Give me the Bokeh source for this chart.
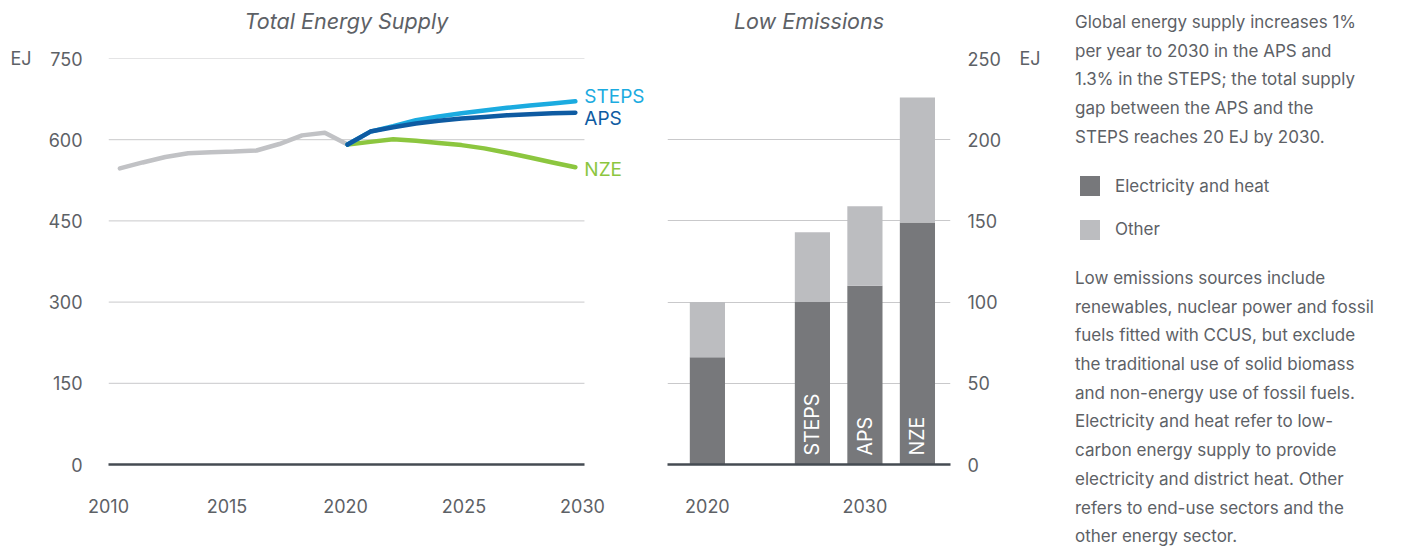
from math import pi
from bokeh.plotting import figure
from bokeh.models import Label, Range1d, FixedTicker, Div, LinearAxis
from bokeh.layouts import row
from bokeh.embed import file_html
from bokeh.resources import INLINE
from bokeh.core.properties import value

# ---------------- data ----------------
hist_years = list(range(2010, 2021))
hist_values = [547, 558, 568, 575, 577, 578, 580, 592, 608, 613, 591]
proj_years = list(range(2020, 2031))
steps_values = [591, 615, 625, 636, 643, 649, 654, 659, 663, 667, 671]
aps_values = [591, 615, 623, 630, 635, 639, 642, 645, 647, 649, 650]
nze_values = [591, 596, 601, 598, 594, 590, 584, 576, 567, 558, 549]
line_ticks = [0, 150, 300, 450, 600, 750]
year_ticks = [2010, 2015, 2020, 2025, 2030]

bar_groups = ["2020", "2030", "2030", "2030"]
bar_scenarios = ["", "STEPS", "APS", "NZE"]
elec_heat = [66, 100, 110, 149]
other = [34, 43, 49, 77]
bar_ticks = [0, 50, 100, 150, 200, 250]
unit = "EJ"
title_left = "Total Energy Supply"
title_mid = "Low Emissions"

# ---------------- styles ----------------
FONT = "Inter"
TXT = "#5d6166"
GRID = "#c9c9cb"
ZERO = "#454b52"
C_HIST = "#c1c2c5"
C_STEPS = "#1babe0"
C_APS = "#0e5ba2"
C_NZE = "#8cc63f"
C_ELEC = "#77787b"
C_OTHER = "#bcbdc0"
H = 538
X_START, X_GRID_END, X_END = 2009.5, 2030.4, 2033.3   # data range of the line panel
LAB_START, LAB_END = 2010.0, 2032.87                  # range used to place the year labels


def style_axis(ax, standoff, size="18px"):
    ax.major_tick_line_color = None
    ax.minor_tick_line_color = None
    ax.major_tick_out = 0
    ax.minor_tick_out = 0
    ax.major_tick_in = 0
    ax.minor_tick_in = 0
    ax.axis_line_color = None
    ax.major_label_text_font = FONT
    ax.major_label_text_font_size = size
    ax.major_label_text_color = TXT
    ax.major_label_standoff = standoff


def style(p):
    p.outline_line_color = None
    p.xgrid.visible = False
    for ax in p.axis:
        style_axis(ax, 20)


def label_axis(tick, text, **kw):
    return LinearAxis(ticker=FixedTicker(ticks=[tick]), major_label_overrides={tick: text}, **kw)


def add_title(p, rng, text):
    mid = (rng.start + rng.end) / 2
    ax = label_axis(mid, text)
    style_axis(ax, 25, "21.5px")
    ax.major_label_text_font_style = "italic"
    p.add_layout(ax, "above")


# ---------------- left: total energy supply ----------------
p1 = figure(width=650, height=H, x_range=Range1d(X_START, X_END), y_range=Range1d(0, 750),
            output_backend="svg", toolbar_location=None,
            min_border_left=108, min_border_right=0, min_border_top=58, min_border_bottom=74)
p1.extra_x_ranges = {"labels": Range1d(LAB_START, LAB_END)}
p1.xaxis.visible = False
year_axis = LinearAxis(x_range_name="labels", ticker=FixedTicker(ticks=year_ticks))
p1.add_layout(year_axis, "below")
style(p1)
p1.ygrid.visible = False
p1.yaxis.ticker = FixedTicker(ticks=line_ticks)
p1.yaxis.major_label_standoff = 26
year_axis.major_label_standoff = 34
frac = (X_GRID_END - X_START) / (X_END - X_START)
year_axis.bounds = (LAB_START, LAB_START + frac * (LAB_END - LAB_START))
year_axis.axis_line_color = ZERO
year_axis.axis_line_width = 2.5
ej1 = label_axis(line_ticks[-1], unit)
style_axis(ej1, 14)
p1.add_layout(ej1, "left")
add_title(p1, Range1d(X_START, X_GRID_END), title_left)

# grid lines limited to the data area
grid_ticks = line_ticks[1:]
p1.segment(x0=[X_START] * len(grid_ticks), x1=[X_GRID_END] * len(grid_ticks),
           y0=grid_ticks, y1=grid_ticks, line_color=GRID, line_width=1)

kw = dict(line_width=4.5, line_cap="round", line_join="round")
p1.line(hist_years, hist_values, color=C_HIST, **kw)
p1.line(proj_years, nze_values, color=C_NZE, **kw)
p1.line(proj_years, steps_values, color=C_STEPS, **kw)
p1.line(proj_years, aps_values, color=C_APS, **kw)

for name, vals, col, dy in [("STEPS", steps_values, C_STEPS, 5), ("APS", aps_values, C_APS, -6),
                            ("NZE", nze_values, C_NZE, -2)]:
    p1.add_layout(Label(x=proj_years[-1], y=vals[-1], x_offset=9, y_offset=dy, text=name,
                        text_font=FONT, text_font_size="19px", text_color=col,
                        text_baseline="middle", text_align="left"))

# ---------------- middle: low emissions ----------------
pos = []
idx = 0
prev = None
for g in bar_groups:
    if prev is not None and g != prev:
        idx += 1
    pos.append(idx)
    idx += 1
    prev = g
totals = [e + o for e, o in zip(elec_heat, other)]
group_centers = {}
for g, x in zip(bar_groups, pos):
    group_centers.setdefault(g, []).append(x)
group_ticks = {sum(v) / len(v): g for g, v in group_centers.items()}

p2 = figure(width=410, height=H, x_range=Range1d(-0.76, 4.63), y_range=Range1d(0, 250),
            output_backend="svg", toolbar_location=None, y_axis_location="right",
            min_border_left=17, min_border_right=110, min_border_top=58, min_border_bottom=74)
style(p2)
p2.ygrid.grid_line_color = GRID
p2.ygrid.grid_line_width = 1
p2.yaxis.ticker = FixedTicker(ticks=bar_ticks)
p2.yaxis.major_label_standoff = 17
p2.xaxis.ticker = FixedTicker(ticks=list(group_ticks.keys()))
p2.xaxis.major_label_overrides = {k: v for k, v in group_ticks.items()}
p2.xaxis.major_label_standoff = 34
p2.xaxis.axis_line_color = ZERO
p2.xaxis.axis_line_width = 2.5
ej2 = label_axis(bar_ticks[-1], unit)
style_axis(ej2, 15)
p2.add_layout(ej2, "right")
add_title(p2, p2.x_range, title_mid)

p2.vbar(x=pos, bottom=0, top=elec_heat, width=0.67, color=C_ELEC, line_color=None)
p2.vbar(x=pos, bottom=elec_heat, top=totals, width=0.67, color=C_OTHER, line_color=None)

lab_x = [x for x, s in zip(pos, bar_scenarios) if s]
lab_t = [s for s in bar_scenarios if s]
p2.text(x=lab_x, y=[0] * len(lab_x), text=lab_t, angle=pi / 2, y_offset=-9,
        text_align="left", text_baseline="middle", text_color="white",
        text_font=value(FONT), text_font_size="19.5px")

# ---------------- right: notes ----------------
para1 = ["Global energy supply increases 1%", "per year to 2030 in the APS and",
         "1.3% in the STEPS; the total supply", "gap between the APS and the",
         "STEPS reaches 20 EJ by 2030."]
para2 = ["Low emissions sources include", "renewables, nuclear power and fossil",
         "fuels fitted with CCUS, but exclude", "the traditional use of solid biomass",
         "and non-energy use of fossil fuels.", "Electricity and heat refer to low-",
         "carbon energy supply to provide", "electricity and district heat. Other",
         "refers to end-use sectors and the", "other energy sector."]
legend_items = [("Electricity and heat", C_ELEC), ("Other", C_OTHER)]


def legend_row(label, col, mt):
    return (f'<div style="display:flex;align-items:center;margin-top:{mt}px;height:28.7px;">'
            f'<span style="display:inline-block;width:20px;height:20px;background:{col};'
            f'margin-left:5px;margin-right:15px;"></span>{label}</div>')


html = (f'<div style="font-family:{FONT};font-size:17px;line-height:28.7px;color:{TXT};'
        f'white-space:nowrap;padding-left:10px;padding-top:3px;">'
        + "<div>" + "<br>".join(para1) + "</div>"
        + legend_row(*legend_items[0], 20) + legend_row(*legend_items[1], 15)
        + '<div style="margin-top:20px;">' + "<br>".join(para2) + "</div></div>")
notes = Div(text=html, width=360, height=H)

layout = row(p1, p2, notes)
open("out.html", "w").write(file_html(layout, INLINE))
